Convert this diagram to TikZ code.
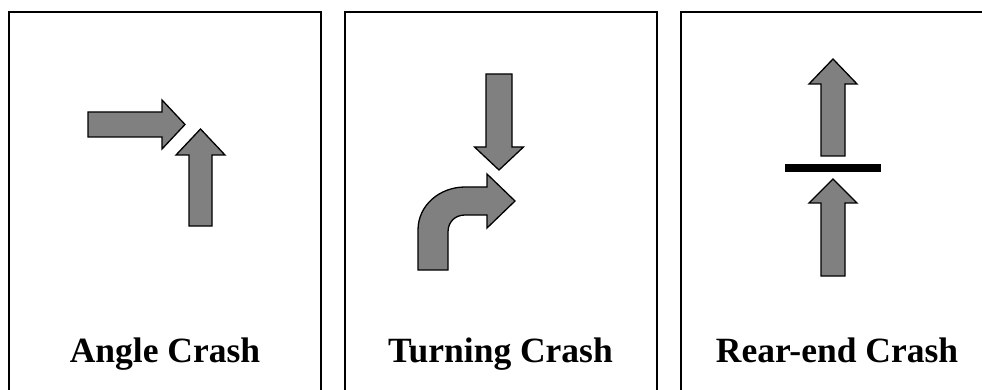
\documentclass[tikz,border=0pt]{standalone}
\usepackage{fontspec}
\setmainfont{Liberation Serif}
\definecolor{arrowgray}{RGB}{128,128,128}
\usepackage{tikz}
\usetikzlibrary{positioning}

\tikzset{
  panel/.style={draw=black, line width=2pt},
  crasharrow/.style={draw=black, fill=arrowgray, line width=1.3pt, line join=miter},
  crashlabel/.style={anchor=base, inner sep=0pt, font=\bfseries\fontsize{35.5}{40}\selectfont}
}

\begin{document}
\begin{tikzpicture}[x=1pt, y=-1pt]
    \clip (0,0) rectangle (982,390);
    \useasboundingbox (0,0) rectangle (982,390);

    % three frames, open at the bottom
    \draw[panel] (9,400) -- (9,12) -- (321,12) -- (321,400);
    \draw[panel] (345,400) -- (345,12) -- (657,12) -- (657,400);
    \draw[panel] (681,400) -- (681,12) -- (1000,12);

    % angle crash
    \draw[crasharrow] (88,112) -- (162,112) -- (162,100) -- (185,124.5)
      -- (162,149) -- (162,137) -- (88,137) -- cycle;
    \draw[crasharrow] (189,226) -- (189,155) -- (176,155) -- (200.5,129)
      -- (225,155) -- (212,155) -- (212,226) -- cycle;
    \node[crashlabel] (angle) at (165,362) {Angle Crash};

    % turning crash
    \draw[crasharrow] (486,74) -- (512,74) -- (512,147) -- (523.5,147)
      -- (499,170) -- (474.5,147) -- (486,147) -- cycle;
    \draw[crasharrow] (418,270) -- (418,230)
      .. controls (418,205) and (440,187) .. (465,187)
      -- (487,187) -- (487,174) -- (515,201) -- (487,228) -- (487,215) -- (465,215)
      .. controls (455,215) and (448,222) .. (448,232) -- (448,270) -- cycle;
    \node[crashlabel] (turning) at (500.5,362) {Turning Crash};

    % rear-end crash
    \draw[crasharrow] (821,156) -- (821,84) -- (809,84) -- (833,59)
      -- (857,84) -- (845,84) -- (845,156) -- cycle;
    \fill[black] (785,164) rectangle (881,172);
    \draw[crasharrow] (821,276) -- (821,203) -- (809,203) -- (833,179)
      -- (857,203) -- (845,203) -- (845,276) -- cycle;
    \node[crashlabel] (rearend) at (837,362) {Rear-end Crash};
\end{tikzpicture}
\end{document}
